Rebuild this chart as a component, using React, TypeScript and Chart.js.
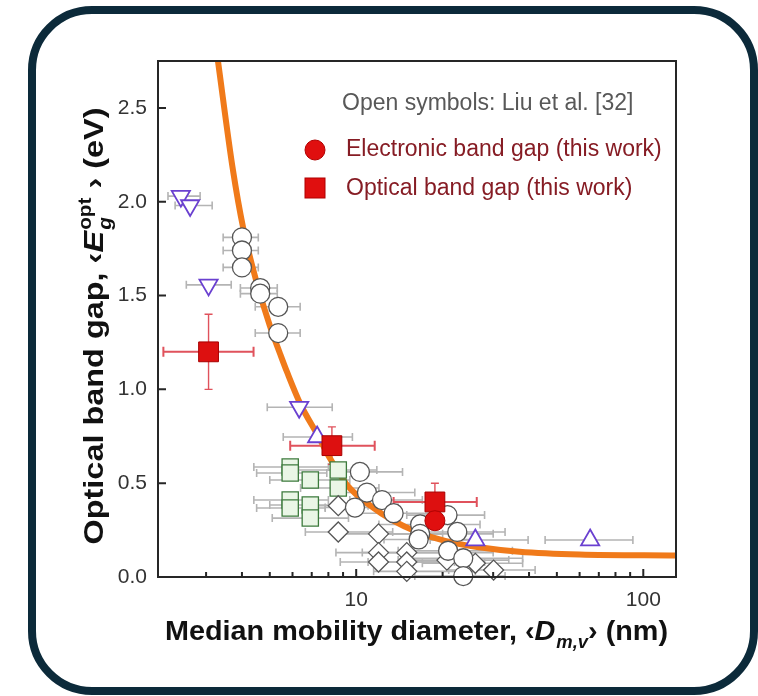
import React, { useEffect, useRef } from "react";
import { Chart, registerables } from "chart.js";

Chart.register(...registerables);

const FONT = "'Liberation Sans', Arial, Helvetica, sans-serif";
const W = 758;
const H = 696;

// axis ranges
const X_MIN = 2.04;
const X_MAX = 130;
const Y_MIN = 0;
const Y_MAX = 2.75;

// tick marks
const xMajorTicks = [10, 100];
const xMajorLabels = ["10", "100"];
const xMinorTicks = [3, 4, 5, 6, 7, 8, 9, 20, 30, 40, 50, 60, 70, 80, 90];
const yTicks = [0, 0.5, 1.0, 1.5, 2.0, 2.5];
const yTickLabels = ["0.0", "0.5", "1.0", "1.5", "2.0", "2.5"];

// trend curve (orange)
const curveD = [3.2, 3.3, 3.72, 4.04, 4.52, 5.0, 5.43, 5.75, 6.4, 7.38, 8.12, 9.3, 11.2, 13.45, 16.3, 20.7, 26.4, 37, 60, 130];
const curveE = [2.9, 2.75, 2.17, 1.86, 1.56, 1.34, 1.19, 1.09, 0.92, 0.75, 0.63, 0.49, 0.38, 0.3, 0.24, 0.19, 0.16, 0.135, 0.12, 0.115];

// Liu et al. — open circles
const circD = [4.0, 4.0, 4.0, 4.63, 4.63, 5.35, 5.35, 10.3, 10.9, 12.3, 9.9, 13.5, 16.7, 16.7, 16.5, 20.8, 22.5, 20.9, 23.6, 23.6];
const circE = [1.81, 1.74, 1.65, 1.54, 1.51, 1.44, 1.3, 0.56, 0.45, 0.41, 0.37, 0.34, 0.28, 0.23, 0.2, 0.33, 0.24, 0.14, 0.1, 0.005];
const circDLo = [3.44, 3.44, 3.44, 3.95, 3.95, 4.45, 4.45, 9.0, 8.5, 9.5, 7.8, 10, 12, 12, 12.5, 15, 16, 14, 15, 16];
const circDHi = [4.56, 4.56, 4.56, 5.31, 5.31, 6.38, 6.38, 14.5, 16, 17, 14, 20, 27, 30, 26, 28, 33, 35, 38, 33];

// Liu et al. — open diamonds
const diaD = [8.66, 8.66, 11.96, 11.96, 11.96, 15.0, 15.0, 15.0, 20.7, 26.0, 30.1];
const diaE = [0.38, 0.24, 0.23, 0.13, 0.08, 0.13, 0.08, 0.03, 0.09, 0.073, 0.037];
const diaDLo = [6.8, 6.65, 9.0, 8.5, 8.8, 10.5, 11, 11.5, 14, 17, 21];
const diaDHi = [11, 13.4, 20, 24, 22, 30, 28, 26, 34, 38, 42];

// Liu et al. — open squares
const sqD = [5.89, 5.89, 6.92, 8.66, 8.66, 5.89, 5.89, 6.92, 6.92];
const sqE = [0.586, 0.554, 0.517, 0.57, 0.474, 0.41, 0.368, 0.384, 0.314];
const sqDLo = [4.4, 4.5, 5.0, 6.3, 6.4, 4.4, 4.5, 5.0, 5.1];
const sqDHi = [8.0, 7.9, 9.5, 11.8, 12, 8.0, 7.8, 9.6, 9.4];

// Liu et al. — open triangles
const triDownD = [2.45, 2.64, 3.06, 6.33];
const triDownE = [2.03, 1.98, 1.557, 0.905];
const triDownDLo = [2.21, 2.34, 2.56, 4.9];
const triDownDHi = [2.86, 3.15, 3.67, 8.25];
const triUpD = [7.31, 26.0, 65.3];
const triUpE = [0.746, 0.197, 0.197];
const triUpDLo = [5.57, 18.1, 45.5];
const triUpDHi = [9.7, 39.7, 92];

// this work
const elecD = [18.8];
const elecE = [0.3];
const optD = [3.06, 8.23, 18.8];
const optE = [1.2, 0.7, 0.4];
const optDLo = [2.13, 5.89, 13.5];
const optDHi = [4.39, 11.6, 26.3];
const optELo = [1.0, 0.6, 0.3];
const optEHi = [1.4, 0.8, 0.5];

const pts = (xs: number[], ys: number[]) => xs.map((x, i) => ({ x, y: ys[i] }));

type Piece = { text?: string; italic?: boolean; sub?: string; sup?: string };

// Draws a bold title with italic symbols and sub/superscripts, centred on cx,
// stretched along the baseline to the requested length.
function drawRich(
  ctx: CanvasRenderingContext2D,
  pieces: Piece[],
  size: number,
  cx: number,
  baseline: number,
  length: number
) {
  const small = size * 0.64;
  const f = (sz: number, it?: boolean) => `${it ? "italic " : ""}bold ${sz}px ${FONT}`;
  const widths = pieces.map((p) => {
    if (p.sub !== undefined || p.sup !== undefined) {
      ctx.font = f(small, true);
      const a = p.sub ? ctx.measureText(p.sub).width : 0;
      ctx.font = f(small, false);
      const b = p.sup ? ctx.measureText(p.sup).width : 0;
      return Math.max(a, b) + 1;
    }
    ctx.font = f(size, p.italic);
    return ctx.measureText(p.text || "").width;
  });
  const total = widths.reduce((a, b) => a + b, 0);
  const sx = length / total;
  ctx.save();
  ctx.translate(cx, baseline);
  ctx.scale(sx, 1);
  let x = -total / 2;
  ctx.textAlign = "left";
  ctx.textBaseline = "alphabetic";
  pieces.forEach((p, i) => {
    if (p.sub !== undefined || p.sup !== undefined) {
      if (p.sub) {
        ctx.font = f(small, true);
        ctx.fillText(p.sub, x + 1, size * 0.28);
      }
      if (p.sup) {
        ctx.font = f(small, false);
        ctx.fillText(p.sup, x + 1, -size * 0.42);
      }
    } else {
      ctx.font = f(size, p.italic);
      ctx.fillText(p.text || "", x, 0);
    }
    x += widths[i];
  });
  ctx.restore();
}

function hBars(ctx: CanvasRenderingContext2D, chart: any, xs: number[], ys: number[], lo: number[], hi: number[], cap: number) {
  const xs_ = chart.scales.x;
  const ys_ = chart.scales.y;
  xs.forEach((_, i) => {
    const y = ys_.getPixelForValue(ys[i]);
    const a = xs_.getPixelForValue(lo[i]);
    const b = xs_.getPixelForValue(hi[i]);
    ctx.beginPath();
    ctx.moveTo(a, y);
    ctx.lineTo(b, y);
    ctx.moveTo(a, y - cap);
    ctx.lineTo(a, y + cap);
    ctx.moveTo(b, y - cap);
    ctx.lineTo(b, y + cap);
    ctx.stroke();
  });
}

function vBars(ctx: CanvasRenderingContext2D, chart: any, xs: number[], lo: number[], hi: number[], cap: number) {
  const xs_ = chart.scales.x;
  const ys_ = chart.scales.y;
  xs.forEach((xv, i) => {
    const x = xs_.getPixelForValue(xv);
    const a = ys_.getPixelForValue(lo[i]);
    const b = ys_.getPixelForValue(hi[i]);
    ctx.beginPath();
    ctx.moveTo(x, a);
    ctx.lineTo(x, b);
    ctx.moveTo(x - cap, a);
    ctx.lineTo(x + cap, a);
    ctx.moveTo(x - cap, b);
    ctx.lineTo(x + cap, b);
    ctx.stroke();
  });
}

const decor = {
  id: "decor",
  beforeDatasetsDraw(chart: any) {
    const ctx = chart.ctx as CanvasRenderingContext2D;
    ctx.save();
    ctx.strokeStyle = "#b4b4b4";
    ctx.lineWidth = 1.6;
    hBars(ctx, chart, circD, circE, circDLo, circDHi, 4);
    hBars(ctx, chart, diaD, diaE, diaDLo, diaDHi, 4);
    hBars(ctx, chart, sqD, sqE, sqDLo, sqDHi, 4);
    hBars(ctx, chart, triDownD, triDownE, triDownDLo, triDownDHi, 4);
    hBars(ctx, chart, triUpD, triUpE, triUpDLo, triUpDHi, 4);
    ctx.strokeStyle = "#e0525c";
    ctx.lineWidth = 2;
    hBars(ctx, chart, optD, optE, optDLo, optDHi, 5);
    ctx.lineWidth = 1.4;
    vBars(ctx, chart, optD, optELo, optEHi, 4);
    ctx.restore();
  },
  afterDraw(chart: any) {
    const ctx = chart.ctx as CanvasRenderingContext2D;
    const { left, right, top, bottom } = chart.chartArea;
    const xs = chart.scales.x;
    const ys = chart.scales.y;
    ctx.save();
    // frame box
    ctx.strokeStyle = "#262626";
    ctx.lineWidth = 2;
    ctx.strokeRect(left, top, right - left, bottom - top);
    // inward ticks
    ctx.beginPath();
    xMajorTicks.forEach((v) => {
      const x = xs.getPixelForValue(v);
      ctx.moveTo(x, bottom);
      ctx.lineTo(x, bottom - 8);
    });
    xMinorTicks.forEach((v) => {
      const x = xs.getPixelForValue(v);
      ctx.moveTo(x, bottom);
      ctx.lineTo(x, bottom - 5);
    });
    yTicks.forEach((v) => {
      const y = ys.getPixelForValue(v);
      ctx.moveTo(left, y);
      ctx.lineTo(left + 8, y);
    });
    ctx.stroke();
    // tick labels
    ctx.fillStyle = "#333";
    ctx.font = `21px ${FONT}`;
    ctx.textAlign = "center";
    ctx.textBaseline = "middle";
    xMajorTicks.forEach((v, i) => {
      ctx.fillText(xMajorLabels[i], xs.getPixelForValue(v), bottom + 23);
    });
    ctx.textAlign = "right";
    yTicks.forEach((v, i) => {
      ctx.fillText(yTickLabels[i], left - 11, ys.getPixelForValue(v));
    });
    // axis titles
    ctx.fillStyle = "#111";
    drawRich(
      ctx,
      [{ text: "Median mobility diameter, \u2039" }, { text: "D", italic: true }, { sub: "m,v" }, { text: "\u203a (nm)" }],
      28.5,
      416.5,
      640,
      503
    );
    ctx.save();
    ctx.translate(103, 326);
    ctx.rotate(-Math.PI / 2);
    drawRich(
      ctx,
      [{ text: "Optical band gap, \u2039" }, { text: "E", italic: true }, { sub: "g", sup: "opt" }, { text: " \u203a (eV)" }],
      28.5,
      0,
      0,
      437
    );
    ctx.restore();
    // legend
    ctx.textAlign = "left";
    ctx.textBaseline = "middle";
    ctx.font = `23px ${FONT}`;
    ctx.fillStyle = "#585858";
    ctx.fillText("Open symbols: Liu et al. [32]", 342, 104);
    ctx.fillStyle = "#861c24";
    ctx.fillText("Electronic band gap (this work)", 346, 150);
    ctx.fillText("Optical band gap (this work)", 346, 189);
    ctx.fillStyle = "#e00f0f";
    ctx.strokeStyle = "#b00000";
    ctx.lineWidth = 1;
    ctx.beginPath();
    ctx.arc(315, 150, 10, 0, Math.PI * 2);
    ctx.fill();
    ctx.stroke();
    ctx.fillRect(305, 178, 20, 20);
    ctx.strokeRect(305, 178, 20, 20);
    ctx.restore();
  },
};

export default function App() {
  const ref = useRef<HTMLCanvasElement | null>(null);
  useEffect(() => {
    if (!ref.current) return;
    const open = { clip: false as any };
    const chart = new Chart(ref.current, {
      type: "scatter",
      data: {
        datasets: [
          {
            label: "Electronic band gap (this work)",
            data: pts(elecD, elecE),
            pointStyle: "circle",
            pointRadius: 10,
            backgroundColor: "#e00f0f",
            borderColor: "#b00000",
            borderWidth: 1,
            order: 0,
            ...open,
          },
          {
            label: "Optical band gap (this work)",
            data: pts(optD, optE),
            pointStyle: "rect",
            pointRadius: 14,
            backgroundColor: "#dd1010",
            borderColor: "#a80000",
            borderWidth: 1,
            order: 0,
            ...open,
          },
          {
            label: "Liu circles",
            data: pts(circD, circE),
            pointStyle: "circle",
            pointRadius: 9.5,
            backgroundColor: "#ffffff",
            borderColor: "#555",
            borderWidth: 1.3,
            order: 2,
            ...open,
          },
          {
            label: "Liu diamonds",
            data: pts(diaD, diaE),
            pointStyle: "rectRot",
            pointRadius: 10,
            backgroundColor: "#ffffff",
            borderColor: "#555",
            borderWidth: 1.3,
            order: 3,
            ...open,
          },
          {
            label: "Liu squares",
            data: pts(sqD, sqE),
            pointStyle: "rect",
            pointRadius: 11.5,
            backgroundColor: "#eaf6e6",
            borderColor: "#3c7a3c",
            borderWidth: 1.3,
            order: 4,
            ...open,
          },
          {
            label: "Liu up triangles",
            data: pts(triUpD, triUpE),
            pointStyle: "triangle",
            pointRadius: 10.5,
            backgroundColor: "#ffffff",
            borderColor: "#6a40d0",
            borderWidth: 1.8,
            order: 1,
            ...open,
          },
          {
            label: "Liu down triangles",
            data: pts(triDownD, triDownE),
            pointStyle: "triangle",
            rotation: 180,
            pointRadius: 10.5,
            backgroundColor: "#ffffff",
            borderColor: "#6a40d0",
            borderWidth: 1.8,
            order: 1,
            ...open,
          },
          {
            type: "line",
            label: "Trend",
            data: pts(curveD, curveE),
            borderColor: "#f07a1a",
            borderWidth: 6,
            pointRadius: 0,
            cubicInterpolationMode: "monotone",
            fill: false,
            showLine: true,
            order: 10,
            clip: 0,
          } as any,
        ],
      },
      options: {
        responsive: false,
        animation: false,
        layout: { padding: { left: 158, top: 61, right: W - 676, bottom: H - 577 } },
        scales: {
          x: { type: "logarithmic", min: X_MIN, max: X_MAX, display: false },
          y: { type: "linear", min: Y_MIN, max: Y_MAX, display: false },
        },
        plugins: { legend: { display: false }, tooltip: { enabled: false } },
      },
      plugins: [decor],
    });
    return () => chart.destroy();
  }, []);

  return (
    <div>
      <div
        style={{
          position: "absolute",
          left: 28,
          top: 6,
          width: 730,
          height: 689,
          boxSizing: "border-box",
          border: "8px solid #0c2a3a",
          borderRadius: 64,
          background: "#fff",
        }}
      />
      <canvas
        ref={ref}
        width={W}
        height={H}
        style={{ position: "absolute", left: 0, top: 0, width: W, height: H }}
      />
    </div>
  );
}
